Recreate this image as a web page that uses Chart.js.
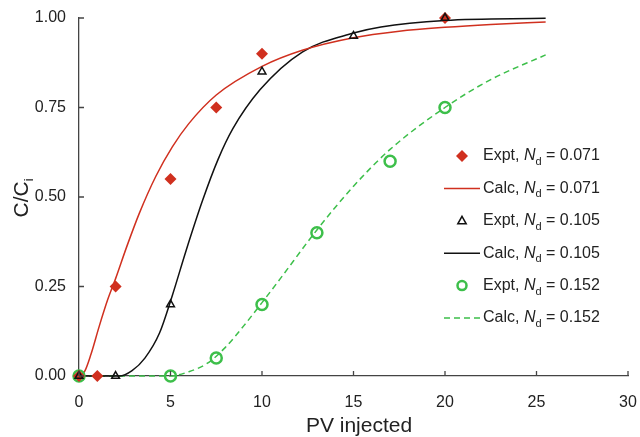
<!DOCTYPE html>
<html lang="en">

<head>
    <meta charset="UTF-8">
    <title>Breakthrough curves</title>
    <script src="https://cdn.jsdelivr.net/npm/chart.js"></script>
    <style>
        html, body { margin: 0; padding: 0; background: #fff; }
        #wrap { width: 640px; height: 437px; position: relative; }
    </style>
</head>

<body>
    <div id="wrap">
        <canvas id="bt-chart"></canvas>
    </div>
    <script>
        // axis ticks
        const xTicks = [0, 5, 10, 15, 20, 25, 30];
        const yTicks = [0, 0.25, 0.5, 0.75, 1.0];

        // measured points (PV injected, C/Ci)
        const exptPv071 = [0, 1, 2, 5, 7.5, 10, 20];
        const exptC071 = [0, 0, 0.25, 0.55, 0.75, 0.90, 1.00];
        const exptPv105 = [0, 2, 5, 10, 15, 20];
        const exptC105 = [0, 0, 0.20, 0.85, 0.95, 1.00];
        const exptPv152 = [0, 5, 7.5, 10, 13, 17, 20];
        const exptC152 = [0, 0, 0.05, 0.20, 0.40, 0.60, 0.75];

        // model curves
        const calcPv071 = [0, 0.3, 0.65, 1.1, 1.56, 2, 2.6, 3.3, 4.2, 5.1, 6, 7.5, 10, 12.2, 15, 17.5, 20, 22.5, 25.5];
        const calcC071 = [0, 0.012, 0.06, 0.138, 0.212, 0.272, 0.36, 0.455, 0.558, 0.64, 0.705, 0.785, 0.865, 0.91, 0.945, 0.963, 0.974, 0.982, 0.989];
        const calcPv105 = [0, 2.2, 2.9, 3.6, 4.4, 5.1, 5.85, 6.75, 7.6, 8.4, 9.9, 12.2, 15, 16.5, 20, 25.5];
        const calcC105 = [0, 0, 0.015, 0.05, 0.12, 0.225, 0.35, 0.49, 0.605, 0.69, 0.80, 0.905, 0.958, 0.975, 0.993, 0.999];
        const calcPv152 = [0, 5, 6, 7, 8, 9, 10, 11, 13, 15, 17, 20, 22.5, 25.5];
        const calcC152 = [0, 0, 0.012, 0.035, 0.08, 0.14, 0.205, 0.272, 0.408, 0.53, 0.633, 0.75, 0.828, 0.897];

        const RED = '#d0301f';
        const BLACK = '#111111';
        const GREEN = '#3dbf4a';
        const AXIS = '#444444';
        const FONT = '"Liberation Sans", Arial, sans-serif';

        function pts(xs, ys) {
            return xs.map((x, i) => ({ x: x, y: ys[i] }));
        }

        // legend entries (labels have italic N with subscript d)
        const legendRows = [
            { kind: 'diamond', color: RED, value: '0.071', prefix: 'Expt, ' },
            { kind: 'line', color: RED, value: '0.071', prefix: 'Calc, ' },
            { kind: 'triangle', color: BLACK, value: '0.105', prefix: 'Expt, ' },
            { kind: 'line', color: BLACK, value: '0.105', prefix: 'Calc, ' },
            { kind: 'circle', color: GREEN, value: '0.152', prefix: 'Expt, ' },
            { kind: 'dash', color: GREEN, value: '0.152', prefix: 'Calc, ' }
        ];

        function drawLabel(ctx, x, y, prefix, value) {
            ctx.textBaseline = 'middle';
            ctx.textAlign = 'left';
            ctx.fillStyle = '#222';
            ctx.font = '16px ' + FONT;
            ctx.fillText(prefix, x, y);
            x += ctx.measureText(prefix).width;
            ctx.font = 'italic 16px ' + FONT;
            ctx.fillText('N', x, y);
            x += ctx.measureText('N').width;
            ctx.font = '11px ' + FONT;
            ctx.fillText('d', x, y + 6);
            x += ctx.measureText('d').width;
            ctx.font = '16px ' + FONT;
            ctx.fillText(' = ' + value, x, y);
        }

        const decorations = {
            id: 'decorations',
            afterDraw(chart) {
                const ctx = chart.ctx;
                const xs = chart.scales.x;
                const ys = chart.scales.y;
                const left = xs.left;
                const bottom = ys.bottom;

                ctx.save();
                // inward tick marks
                ctx.strokeStyle = AXIS;
                ctx.lineWidth = 1.3;
                ctx.beginPath();
                xTicks.forEach(v => {
                    const px = xs.getPixelForValue(v);
                    ctx.moveTo(px, bottom);
                    ctx.lineTo(px, bottom - 5);
                });
                yTicks.forEach(v => {
                    const py = ys.getPixelForValue(v);
                    ctx.moveTo(left, py);
                    ctx.lineTo(left + 5, py);
                });
                ctx.stroke();

                // axis titles
                ctx.fillStyle = '#222';
                ctx.textAlign = 'center';
                ctx.textBaseline = 'alphabetic';
                ctx.font = '21px ' + FONT;
                ctx.fillText('PV injected', 359, 432);

                ctx.translate(28, 198);
                ctx.rotate(-Math.PI / 2);
                ctx.font = '21px ' + FONT;
                const main = 'C/C';
                const w = ctx.measureText(main).width;
                ctx.font = '13px ' + FONT;
                const ws = ctx.measureText('i').width;
                ctx.textAlign = 'left';
                ctx.font = '21px ' + FONT;
                ctx.fillText(main, -(w + ws) / 2, 0);
                ctx.font = '13px ' + FONT;
                ctx.fillText('i', -(w + ws) / 2 + w, 5);
                ctx.restore();

                // legend
                ctx.save();
                const markX = 462;
                const textX = 483;
                legendRows.forEach((row, i) => {
                    const y = 156 + i * 32.4;
                    ctx.strokeStyle = row.color;
                    ctx.fillStyle = row.color;
                    if (row.kind === 'diamond') {
                        ctx.beginPath();
                        ctx.moveTo(markX, y - 6);
                        ctx.lineTo(markX + 6, y);
                        ctx.lineTo(markX, y + 6);
                        ctx.lineTo(markX - 6, y);
                        ctx.closePath();
                        ctx.fill();
                    } else if (row.kind === 'triangle') {
                        ctx.lineWidth = 1.5;
                        ctx.beginPath();
                        ctx.moveTo(markX, y - 4.5);
                        ctx.lineTo(markX + 4.2, y + 3);
                        ctx.lineTo(markX - 4.2, y + 3);
                        ctx.closePath();
                        ctx.stroke();
                    } else if (row.kind === 'circle') {
                        ctx.lineWidth = 2.5;
                        ctx.beginPath();
                        ctx.arc(markX, y, 4.5, 0, Math.PI * 2);
                        ctx.stroke();
                    } else {
                        ctx.lineWidth = 1.5;
                        ctx.setLineDash(row.kind === 'dash' ? [6, 4] : []);
                        ctx.beginPath();
                        ctx.moveTo(444, y);
                        ctx.lineTo(480, y);
                        ctx.stroke();
                        ctx.setLineDash([]);
                    }
                    drawLabel(ctx, textX, y, row.prefix, row.value);
                });
                ctx.restore();
            }
        };

        const curve = (xs, ys, color, dash, order) => ({
            data: pts(xs, ys),
            showLine: true,
            borderColor: color,
            borderWidth: 1.5,
            borderDash: dash,
            pointRadius: 0,
            fill: false,
            clip: false,
            cubicInterpolationMode: 'monotone',
            order: order
        });

        const ctx = document.getElementById('bt-chart').getContext('2d');
        const myChart = new Chart(ctx, {
            type: 'scatter',
            data: {
                datasets: [
                    {
                        data: pts(exptPv105, exptC105),
                        pointStyle: 'triangle',
                        pointRadius: 4.5,
                        borderColor: BLACK,
                        borderWidth: 1.5,
                        backgroundColor: 'rgba(0,0,0,0)',
                        clip: false,
                        order: 1
                    },
                    {
                        data: pts(exptPv071, exptC071),
                        pointStyle: 'rectRot',
                        pointRadius: 6,
                        borderWidth: 0,
                        backgroundColor: RED,
                        borderColor: RED,
                        clip: false,
                        order: 2
                    },
                    {
                        data: pts(exptPv152, exptC152),
                        pointStyle: 'circle',
                        pointRadius: 5.5,
                        borderWidth: 2.5,
                        borderColor: GREEN,
                        backgroundColor: 'rgba(0,0,0,0)',
                        clip: false,
                        order: 3
                    },
                    curve(calcPv071, calcC071, RED, [], 4),
                    curve(calcPv105, calcC105, BLACK, [], 5),
                    curve(calcPv152, calcC152, GREEN, [6, 4], 6)
                ]
            },
            options: {
                responsive: true,
                maintainAspectRatio: false,
                animation: false,
                layout: { padding: { top: 18, right: 12, left: 0, bottom: 0 } },
                plugins: {
                    legend: { display: false },
                    tooltip: { enabled: false }
                },
                scales: {
                    x: {
                        type: 'linear',
                        min: 0,
                        max: 30,
                        afterFit: s => { s.height = 61; s.paddingLeft = 0; s.paddingRight = 0; },
                        afterBuildTicks: s => { s.ticks = xTicks.map(v => ({ value: v })); },
                        grid: { display: false },
                        border: { display: true, color: AXIS, width: 1.3 },
                        ticks: {
                            padding: 9,
                            color: '#222',
                            font: { family: FONT, size: 16 }
                        }
                    },
                    y: {
                        min: 0,
                        max: 1,
                        afterFit: s => { s.width = 79; s.paddingTop = 0; s.paddingBottom = 0; },
                        afterBuildTicks: s => { s.ticks = yTicks.map(v => ({ value: v })); },
                        grid: { display: false },
                        border: { display: true, color: AXIS, width: 1.3 },
                        ticks: {
                            padding: 5,
                            color: '#222',
                            font: { family: FONT, size: 16 },
                            callback: v => v.toFixed(2)
                        }
                    }
                }
            },
            plugins: [decorations]
        });
    </script>

</body>

</html>
